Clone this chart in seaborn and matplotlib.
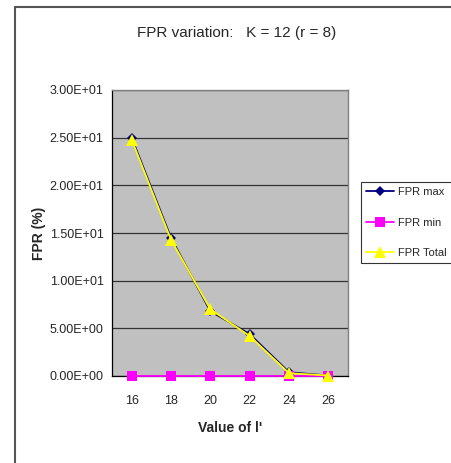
import matplotlib
matplotlib.use("Agg")
import matplotlib.pyplot as plt
from matplotlib.patches import Rectangle
from matplotlib.ticker import FixedLocator
import seaborn as sns
import pandas as pd

l_values = [16, 18, 20, 22, 24, 26]
fpr_max = [25.0, 14.5, 6.8, 4.4, 0.4, 0.05]
fpr_min = [0.0, 0.0, 0.0, 0.0, 0.0, 0.0]
fpr_total = [24.8, 14.3, 7.0, 4.2, 0.3, 0.05]
series_names = ["FPR max", "FPR min", "FPR Total"]
y_ticks = [0, 5, 10, 15, 20, 25, 30]
y_tick_labels = ["0.00E+00", "5.00E+00", "1.00E+01", "1.50E+01", "2.00E+01", "2.50E+01", "3.00E+01"]

df = pd.DataFrame({
    "l": l_values * 3,
    "FPR": fpr_max + fpr_min + fpr_total,
    "series": [series_names[0]] * 6 + [series_names[1]] * 6 + [series_names[2]] * 6,
})

sns.set_theme(style="white")
plt.rcParams["font.family"] = ["Liberation Sans", "DejaVu Sans"]

W, H = 451, 463
fig = plt.figure(figsize=(W / 100, H / 100), dpi=100)
ax = fig.add_axes([112 / W, 1 - 376 / H, (348 - 112) / W, (376 - 90) / H])
ax.set_facecolor("#C0C0C0")

palette = {"FPR max": "#000080", "FPR min": "#FF00FF", "FPR Total": "#FFFF00"}
markers = {"FPR max": "D", "FPR min": "s", "FPR Total": "^"}
sizes_map = {"FPR max": 5, "FPR min": 6.5, "FPR Total": 8}
sns.lineplot(data=df, x="l", y="FPR", hue="series", style="series",
             palette=palette, markers=markers, dashes=False,
             linewidth=1.3, markeredgewidth=0,
             ax=ax, legend=True)

for line in ax.get_lines():
    line.set_clip_on(False)
    line.set_zorder(5)
lines = ax.get_lines()
for line, name in zip(lines, series_names):
    line.set_markersize(sizes_map[name])

ax.set_xlim(15, 27)
ax.set_ylim(0, 30)
ax.set_yticks(y_ticks)
ax.set_yticklabels(y_tick_labels, fontsize=9)
ax.set_xticks(l_values)
ax.set_xticklabels([str(v) for v in l_values], fontsize=9)
ax.xaxis.set_minor_locator(FixedLocator([15, 17, 19, 21, 23, 25, 27]))
ax.tick_params(axis="x", which="major", length=0, pad=14)
ax.tick_params(axis="x", which="minor", length=4, width=0.8, color="black", direction="out")
ax.tick_params(axis="y", which="major", length=4, width=0.8, color="black", direction="out", pad=2)
ax.grid(axis="y", color="#333333", linewidth=0.9)
ax.set_axisbelow(True)

for side in ["top", "right"]:
    ax.spines[side].set_color("#808080")
    ax.spines[side].set_linewidth(1.0)
for side in ["left", "bottom"]:
    ax.spines[side].set_color("black")
    ax.spines[side].set_linewidth(0.9)
    ax.spines[side].set_zorder(2.5)

ax.set_xlabel("Value of l'", fontsize=10, fontweight="bold", labelpad=10)
ax.set_ylabel("FPR (%)", fontsize=10, fontweight="bold", labelpad=3)

leg = ax.legend(loc="upper left", bbox_to_anchor=(361 / W, 1 - 182 / H),
                bbox_transform=fig.transFigure, borderaxespad=0, fontsize=8,
                frameon=True, fancybox=False, handlelength=2.5, labelspacing=1.85,
                borderpad=0.45, handletextpad=0.4)
leg.get_frame().set_edgecolor("black")
leg.get_frame().set_linewidth(0.8)
for h, name in zip(leg.legend_handles, series_names):
    h.set_markersize(sizes_map[name])

fig.text(237 / W, 1 - 33 / H, "FPR variation:   K = 12 (r = 8)", ha="center", va="center",
         fontsize=11)

fig.patches.append(Rectangle((15 / W, -0.1), 1.2, 1 - 7 / H + 0.1, transform=fig.transFigure,
                             fill=False, edgecolor="#555555", linewidth=1.5))

fig.savefig("out.png", dpi=100)
